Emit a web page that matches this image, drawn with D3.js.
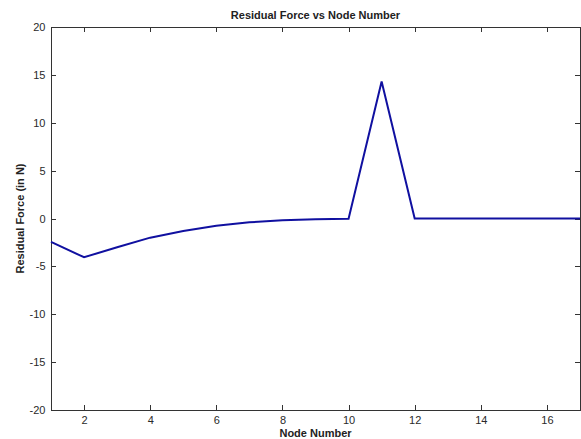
<!DOCTYPE html>
<html><head><meta charset="utf-8">
<script src="https://cdn.jsdelivr.net/npm/d3@7/dist/d3.min.js"></script>
<style>body{margin:0;background:#fff}svg{display:block}</style>
</head><body><svg id="c" width="581" height="439"></svg>
<script>
const nodes = [1,2,3,4,5,6,7,8,9,10,11,12,13,14,15,16,17];
const force = [-2.45,-4.05,-3.0,-2.0,-1.3,-0.75,-0.4,-0.18,-0.08,-0.03,14.3,0,0,0,0,0,0];
const xTicks = [2,4,6,8,10,12,14,16];
const yTicks = [-20,-15,-10,-5,0,5,10,15,20];
const title = "Residual Force vs Node Number";
const xLabel = "Node Number";
const yLabel = "Residual Force (in N)";

const svg = d3.select("#c");
const L=51, R=580, T=27, B=410;
const x = d3.scaleLinear().domain([1,17]).range([L,R]);
const y = d3.scaleLinear().domain([-20,20]).range([B,T]);
const font = "Liberation Sans, Arial, sans-serif";
const tc = "#2a2a2a";
const fmt = d => String(d);

svg.append("rect").attr("x",L).attr("y",T).attr("width",R-L).attr("height",B-T)
  .attr("fill","#fff").attr("stroke","#333").attr("stroke-width",1).attr("shape-rendering","crispEdges");

function styleAxis(g){
  g.select(".domain").remove();
  g.selectAll("line").attr("stroke","#333").attr("shape-rendering","crispEdges");
  g.selectAll("text").attr("font-family",font).attr("font-size",11).attr("fill",tc);
}
svg.append("g").attr("transform",`translate(0,${B})`)
  .call(d3.axisBottom(x).tickValues(xTicks).tickSize(-5).tickPadding(6).tickFormat(fmt)).call(styleAxis);
svg.append("g").attr("transform",`translate(0,${T})`)
  .call(d3.axisTop(x).tickValues(xTicks).tickSize(-5).tickFormat("")).call(styleAxis);
svg.append("g").attr("transform",`translate(${L},0)`)
  .call(d3.axisLeft(y).tickValues(yTicks).tickSize(-5).tickPadding(5.5).tickFormat(fmt)).call(styleAxis);
svg.append("g").attr("transform",`translate(${R},0)`)
  .call(d3.axisRight(y).tickValues(yTicks).tickSize(-5).tickFormat("")).call(styleAxis);

const line = d3.line().x((d,i)=>x(nodes[i])).y(d=>y(d));
svg.append("path").datum(force).attr("d",line).attr("fill","none")
  .attr("stroke","#1010a0").attr("stroke-width",2).attr("stroke-linejoin","miter");

svg.append("text").attr("x",(L+R)/2).attr("y",19).attr("text-anchor","middle")
  .attr("font-family",font).attr("font-size",11).attr("font-weight","bold").attr("fill","#222").text(title);
svg.append("text").attr("x",(L+R)/2).attr("y",437).attr("text-anchor","middle")
  .attr("font-family",font).attr("font-size",11).attr("font-weight","bold").attr("fill","#222").text(xLabel);
svg.append("text").attr("transform",`translate(24,${(T+B)/2}) rotate(-90)`).attr("text-anchor","middle")
  .attr("font-family",font).attr("font-size",11).attr("font-weight","bold").attr("fill","#222").text(yLabel);
</script></body></html>
